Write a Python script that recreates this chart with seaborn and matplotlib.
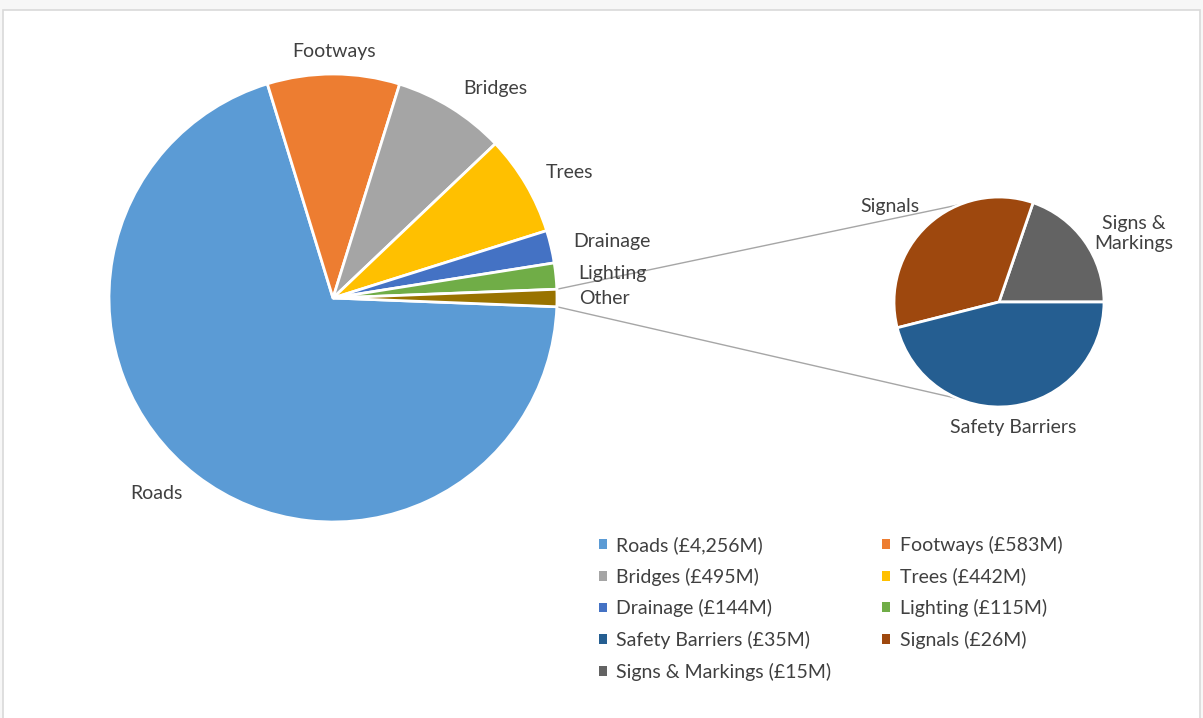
import numpy as np
import matplotlib
matplotlib.use("Agg")
import matplotlib.pyplot as plt
from matplotlib.patches import Patch, Rectangle
import seaborn as sns

# ---- data ----
main_labels = ["Roads", "Footways", "Bridges", "Trees", "Drainage", "Lighting", "Other"]
main_values = [4256, 583, 495, 442, 144, 115]
sub_labels = ["Signs &\nMarkings", "Signals", "Safety Barriers"]
sub_values = [15, 26, 35]
legend_names = ["Roads", "Footways", "Bridges", "Trees", "Drainage", "Lighting",
                "Safety Barriers", "Signals", "Signs & Markings"]
legend_values = [4256, 583, 495, 442, 144, 115, 35, 26, 15]

main_colors = ["#5B9BD5", "#ED7D31", "#A5A5A5", "#FFC000", "#4472C4", "#70AD47", "#997300"]
sub_colors = ["#636363", "#9E480E", "#255E91"]
legend_colors = ["#5B9BD5", "#ED7D31", "#A5A5A5", "#FFC000", "#4472C4", "#70AD47",
                 "#255E91", "#9E480E", "#636363"]

sns.set_theme(style="white")
plt.rcParams["font.family"] = ["Lato", "DejaVu Sans"]
TXT = "#404040"
FS = 14

fig = plt.figure(figsize=(12.03, 7.18), dpi=100)
ax = fig.add_axes([0, 0, 1, 1])

# frame
fig.patches.append(Rectangle((0, 0), 1, 1, transform=fig.transFigure,
                             facecolor="#f7f7f7", edgecolor="none", zorder=-2))
fig.patches.append(Rectangle((3 / 1203, -0.01), 1197 / 1203, 1 - 10 / 718 + 0.01,
                             transform=fig.transFigure, facecolor="white",
                             edgecolor="#d9d9d9", linewidth=1.2, zorder=-1))

vals_main = main_values + [sum(sub_values)]
total = sum(vals_main)
other_frac = vals_main[-1] / total
main_c = (333, 420)
main_r = 224
wedges, texts = ax.pie(vals_main, labels=main_labels, colors=sns.color_palette(main_colors),
                       center=main_c, radius=main_r, counterclock=False,
                       startangle=-other_frac * 180, labeldistance=1.1,
                       wedgeprops=dict(edgecolor="white", linewidth=2),
                       textprops=dict(color=TXT, fontsize=FS))

sub_c = (999, 416)
sub_r = 105
swedges, stexts = ax.pie(sub_values, labels=sub_labels, colors=sns.color_palette(sub_colors),
                         center=sub_c, radius=sub_r, counterclock=True, startangle=0,
                         labeldistance=1.12,
                         wedgeprops=dict(edgecolor="white", linewidth=2),
                         textprops=dict(color=TXT, fontsize=FS))


def align(wlist, tlist):
    for w, t in zip(wlist, tlist):
        mid = np.radians((w.theta1 + w.theta2) / 2)
        c = np.cos(mid)
        if abs(c) < 0.15:
            t.set_ha("center")
        elif c < 0:
            t.set_ha("right")
        else:
            t.set_ha("left")


align(wedges, texts)
align(swedges, stexts)
stexts[0].set_multialignment("center")
stexts[2].set_va("top")
stexts[1].set_va("bottom")

ax.set_xlim(0, 1203)
ax.set_ylim(0, 718)
ax.set_aspect("equal")
ax.axis("off")

# connector lines
ow = wedges[-1]
for a_main, a_sub in [(ow.theta2, 112), (ow.theta1, -113)]:
    p1 = (main_c[0] + main_r * np.cos(np.radians(a_main)),
          main_c[1] + main_r * np.sin(np.radians(a_main)))
    p2 = (sub_c[0] + sub_r * np.cos(np.radians(a_sub)),
          sub_c[1] + sub_r * np.sin(np.radians(a_sub)))
    ax.plot([p1[0], p2[0]], [p1[1], p2[1]], color="#A6A6A6", linewidth=1, zorder=0)

# legend (row-major order in 2 columns)
handles = [Patch(facecolor=c, edgecolor="none",
                 label=f"{n} (£{v:,}M)") for n, v, c in zip(legend_names, legend_values, legend_colors)]
order = [0, 2, 4, 6, 8, 1, 3, 5, 7]
leg = ax.legend([handles[i] for i in order], [handles[i].get_label() for i in order],
                ncol=2, loc="upper left", bbox_to_anchor=(599 / 1203, 1 - 536 / 718),
                frameon=False, fontsize=FS, handlelength=0.4, handleheight=0.4,
                handletextpad=0.5, labelspacing=0.70, columnspacing=2.6,
                borderaxespad=0, borderpad=0)
for t in leg.get_texts():
    t.set_color(TXT)

fig.savefig("out.png", dpi=100)
